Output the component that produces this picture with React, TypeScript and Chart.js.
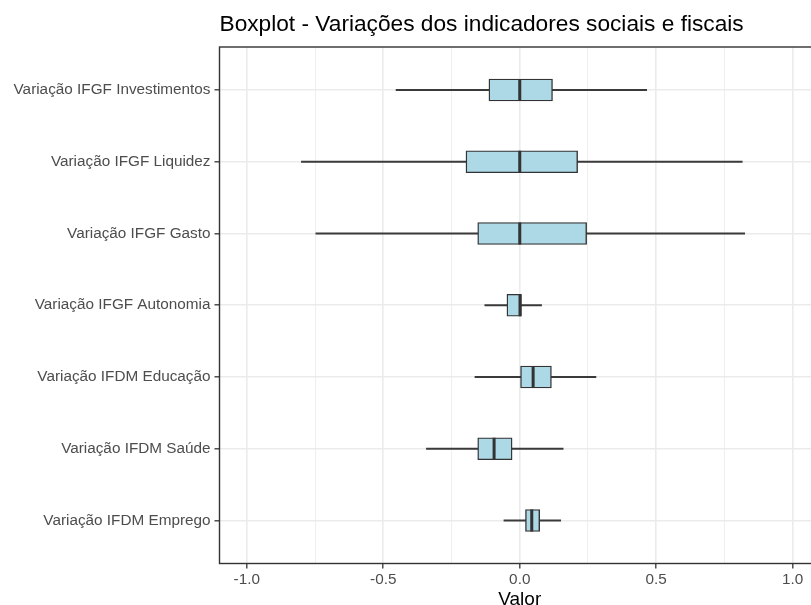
import React, { useEffect, useRef } from 'react';
import { Chart, registerables } from 'chart.js';

Chart.register(...registerables);

const FONT = '"Liberation Sans", Arial, Helvetica, sans-serif';
const TITLE = 'Boxplot - Variações dos indicadores sociais e fiscais';
const X_TITLE = 'Valor';

// Categories, top to bottom
const categories = [
  'Variação IFGF Investimentos',
  'Variação IFGF Liquidez',
  'Variação IFGF Gasto',
  'Variação IFGF Autonomia',
  'Variação IFDM Educação',
  'Variação IFDM Saúde',
  'Variação IFDM Emprego',
];

const whiskerLow = [-0.453, -0.8, -0.747, -0.128, -0.164, -0.342, -0.058];
const q1 = [-0.113, -0.197, -0.154, -0.047, 0.0, -0.154, 0.021];
const median = [0.0, 0.0, 0.0, 0.001, 0.049, -0.094, 0.044];
const q3 = [0.12, 0.212, 0.245, 0.006, 0.116, -0.028, 0.073];
const whiskerHigh = [0.465, 0.815, 0.824, 0.08, 0.279, 0.159, 0.15];

const xTicks = [-1, -0.75, -0.5, -0.25, 0, 0.25, 0.5, 0.75, 1];

const isMajor = (v: number) => Math.abs(v * 2 - Math.round(v * 2)) < 1e-9;

export default function App() {
  const ref = useRef<HTMLCanvasElement>(null);

  useEffect(() => {
    const canvas = ref.current;
    if (!canvas) return;
    const rows = categories.map((_, i) => i + 1);

    const framePlugin = {
      id: 'frame',
      afterDraw(chart: any) {
        const { ctx, chartArea } = chart;
        const { left, top, right, bottom } = chartArea;
        ctx.save();
        ctx.strokeStyle = '#333333';
        ctx.lineWidth = 1.4;
        ctx.strokeRect(left, top, right - left, bottom - top);
        ctx.fillStyle = '#000000';
        ctx.font = `22.7px ${FONT}`;
        ctx.textBaseline = 'alphabetic';
        ctx.textAlign = 'left';
        ctx.fillText(TITLE, left, 31);
        ctx.restore();
      },
    };

    const chart = new Chart(canvas, {
      type: 'bar',
      data: {
        datasets: [
          {
            label: 'whiskers',
            data: rows.map((r, i) => ({ x: [whiskerLow[i], whiskerHigh[i]], y: r })),
            backgroundColor: '#3a3a3a',
            borderWidth: 0,
            barThickness: 1.3,
            grouped: false,
            order: 2,
          } as any,
          {
            label: 'box',
            data: rows.map((r, i) => ({ x: [q1[i], q3[i]], y: r })),
            backgroundColor: '#ADD8E6',
            borderColor: '#333333',
            borderWidth: 1.4,
            borderSkipped: false,
            barThickness: 22,
            grouped: false,
            order: 1,
          } as any,
          {
            type: 'scatter',
            label: 'median',
            data: rows.map((r, i) => ({ x: median[i], y: r })),
            pointStyle: 'line',
            pointRotation: 90,
            pointRadius: 11,
            pointHoverRadius: 11,
            pointBorderColor: '#333333',
            pointBorderWidth: 3,
            showLine: false,
            order: 0,
          } as any,
        ],
      },
      options: {
        responsive: false,
        animation: false,
        indexAxis: 'y',
        events: [],
        layout: { autoPadding: false, padding: { top: 47, left: 0, right: 0, bottom: 0 } },
        plugins: {
          legend: { display: false },
          tooltip: { enabled: false },
          title: { display: false },
        },
        scales: {
          x: {
            type: 'linear',
            position: 'bottom',
            min: -1.1,
            max: 1.1,
            offset: false,
            afterBuildTicks: (s: any) => {
              s.ticks = xTicks.map((v) => ({ value: v }));
            },
            afterFit: (s: any) => {
              s.height = 41.5;
              s.paddingLeft = 0;
              s.paddingRight = 0;
            },
            ticks: {
              autoSkip: false,
              maxRotation: 0,
              padding: 2,
              color: '#4D4D4D',
              font: { family: FONT, size: 15.3 },
              callback: (v: any) => (isMajor(Number(v)) ? Number(v).toFixed(1) : ''),
            },
            grid: {
              offset: false,
              color: '#EBEBEB',
              lineWidth: (ctx: any) => (isMajor(ctx.tick.value) ? 1.6 : 0.8),
              tickColor: (ctx: any) => (isMajor(ctx.tick.value) ? '#333333' : 'rgba(0,0,0,0)'),
              tickLength: 5,
              tickWidth: 1.3,
            },
            border: { display: false },
            title: {
              display: true,
              text: X_TITLE,
              color: '#000000',
              font: { family: FONT, size: 19, lineHeight: 0.6 },
              padding: 0,
            },
          },
          y: {
            type: 'linear',
            min: 0.4,
            max: 7.6,
            reverse: true,
            offset: false,
            afterBuildTicks: (s: any) => {
              s.ticks = rows.map((v) => ({ value: v }));
            },
            afterFit: (s: any) => {
              s.width = 219.5;
            },
            ticks: {
              autoSkip: false,
              padding: 4,
              color: '#4D4D4D',
              font: { family: FONT, size: 15.3 },
              callback: (v: any) => categories[Number(v) - 1] ?? '',
            },
            grid: {
              offset: false,
              color: '#EBEBEB',
              lineWidth: 1.6,
              tickColor: '#333333',
              tickLength: 5,
              tickWidth: 1.3,
            },
            border: { display: false },
          },
        },
      } as any,
      plugins: [framePlugin],
    });

    return () => chart.destroy();
  }, []);

  return (
    <div style={{ position: 'absolute', left: 0, top: 0, width: 811, height: 605, overflow: 'hidden', background: '#fff' }}>
      <div style={{ width: 820, height: 605 }}>
        <canvas ref={ref} width={820} height={605} style={{ display: 'block' }} />
      </div>
    </div>
  );
}
